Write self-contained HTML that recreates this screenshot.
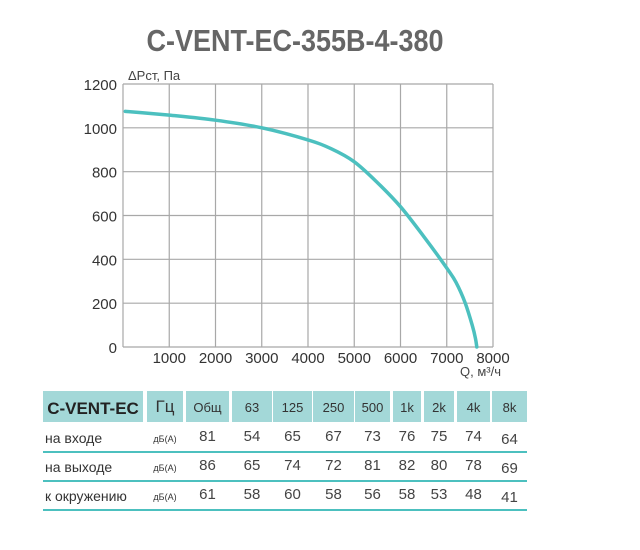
<!DOCTYPE html>
<html><head><meta charset="utf-8">
<style>
body{margin:0;background:#fff;width:640px;height:550px;overflow:hidden;font-family:"Liberation Sans",sans-serif;}
svg{position:absolute;left:0;top:0}
</style></head>
<body>
<svg id="c" width="640" height="550">
<text x="295" y="51" text-anchor="middle" font-size="31" font-weight="bold" fill="#666" textLength="297" lengthAdjust="spacingAndGlyphs">C-VENT-EC-355B-4-380</text>
<text x="128" y="80" font-size="13" fill="#444">ΔPст, Па</text>
<text x="460" y="376" font-size="13" fill="#444">Q, м³/ч</text>
<g id="grid"></g><g id="labels"></g>
<path id="curve" fill="none" stroke="#4cc0bf" stroke-width="3.5" stroke-linecap="round"></path>
<g id="table"></g>
</svg>
<script>
const xTicks=[1000,2000,3000,4000,5000,6000,7000,8000];
const yTicks=[0,200,400,600,800,1000,1200];
const flowQ=[50,1000,2000,3000,4000,4500,5000,5500,6000,6500,7000,7200,7400,7550,7620,7650];
const pressure=[1075,1058,1035,1000,945,905,845,750,640,505,360,295,200,100,40,0];
const colHeads=["Гц","Общ","63","125","250","500","1k","2k","4k","8k"];
const rowNames=["на входе","на выходе","к окружению"];
const rowIn=[81,54,65,67,73,76,75,74,64];
const rowOut=[86,65,74,72,81,82,80,78,69];
const rowEnv=[61,58,60,58,56,58,53,48,41];

const L=123,R=493,T=84,B=347;
const sx=v=>L+v/8000*(R-L), sy=v=>B-v/1200*(B-T);
const NS="http://www.w3.org/2000/svg";
function mk(tag,attrs,parent,txt){const e=document.createElementNS(NS,tag);for(const k in attrs)e.setAttribute(k,attrs[k]);if(txt!==undefined)e.textContent=txt;parent.appendChild(e);return e;}
const g=document.getElementById('grid'),lb=document.getElementById('labels');
[0].concat(xTicks).forEach(v=>{const l=mk('line',{x1:sx(v),x2:sx(v),y1:T,y2:B,stroke:'#a8a8a8','stroke-width':1.2},g);

});
yTicks.forEach(v=>{const l=mk('line',{x1:L,x2:R,y1:sy(v),y2:sy(v),stroke:'#a8a8a8','stroke-width':1.2},g);


const t=mk('text',{x:117,y:sy(v)+6,'text-anchor':'end','font-size':15,fill:'#333'},lb,String(v));

});
xTicks.forEach(v=>{const t=mk('text',{x:sx(v),y:363,'text-anchor':'middle','font-size':15,fill:'#333'},lb,String(v));

});
// smooth monotone cubic through points in pixel space
const P=flowQ.map((q,i)=>[sx(q),sy(pressure[i])]);
const n=P.length,m=[];
for(let i=0;i<n;i++){
  if(i==0){m.push([P[1][0]-P[0][0],P[1][1]-P[0][1]]);}
  else if(i==n-1){m.push([P[i][0]-P[i-1][0],P[i][1]-P[i-1][1]]);}
  else{m.push([(P[i+1][0]-P[i-1][0])/2,(P[i+1][1]-P[i-1][1])/2]);}
}
let d='M'+P[0][0].toFixed(1)+' '+P[0][1].toFixed(1);
for(let i=0;i<n-1;i++){
  const c1=[P[i][0]+m[i][0]/3,P[i][1]+m[i][1]/3],c2=[P[i+1][0]-m[i+1][0]/3,P[i+1][1]-m[i+1][1]/3];
  d+=' C'+c1[0].toFixed(1)+' '+c1[1].toFixed(1)+' '+c2[0].toFixed(1)+' '+c2[1].toFixed(1)+' '+P[i+1][0].toFixed(1)+' '+P[i+1][1].toFixed(1);
}
document.getElementById('curve').setAttribute('d',d);

const tb=document.getElementById('table');
const cols=[[147,183],[186,229],[232,272],[273,312],[313,354],[355,390],[393,421],[424,454],[457,490],[492,527]];
const hc=mk('rect',{x:43,y:391,width:100,height:31,fill:'#a3d8d8'},tb);


const ht=mk('text',{x:93,y:414,'text-anchor':'middle','font-size':17,'font-weight':'bold',fill:'#222'},tb,'C-VENT-EC');


colHeads.forEach((h,i)=>{const c=cols[i];
const r=mk('rect',{x:c[0],y:391,width:c[1]-c[0],height:31,fill:'#a3d8d8'},tb);


const t=mk('text',{x:(c[0]+c[1])/2,y:412,'text-anchor':'middle','font-size':i==0?17:13,fill:'#333'},tb,h);

});
[rowIn,rowOut,rowEnv].forEach((row,ri)=>{const cy=443+ri*29;
const nm=mk('text',{x:45,y:cy,'font-size':14,fill:'#333'},tb,rowNames[ri]);


const u=mk('text',{x:165,y:cy-1,'text-anchor':'middle','font-size':9,fill:'#333'},tb,'дБ(А)');


row.forEach((v,i)=>{const c=cols[i+1];
const t=mk('text',{x:(c[0]+c[1])/2,y:cy-2+(i==8?3:0),'text-anchor':'middle','font-size':15,fill:'#444'},tb,String(v));

});
const s=mk('line',{x1:43,x2:527,y1:cy+9,y2:cy+9,stroke:'#4cc0bf','stroke-width':2},tb);

});
</script>
</body></html>
